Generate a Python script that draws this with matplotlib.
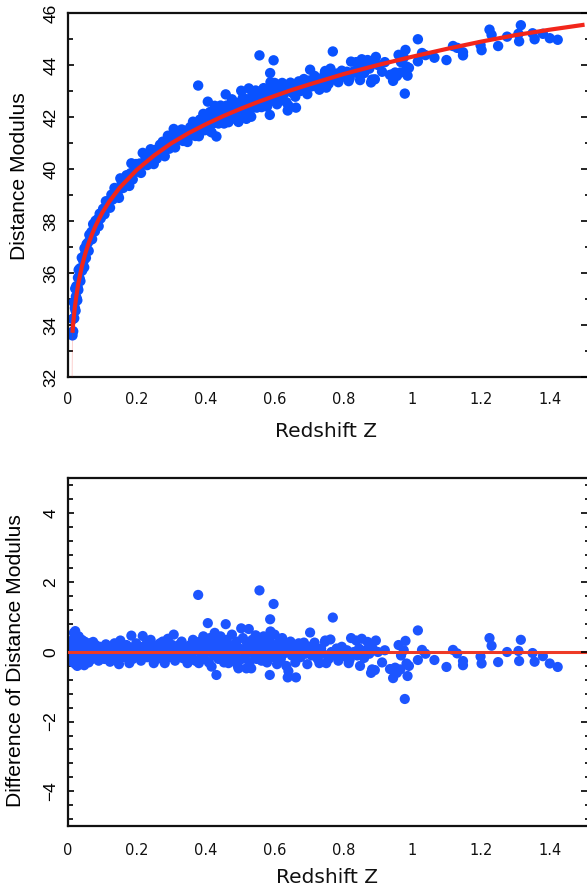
import matplotlib
matplotlib.use("Agg")
import matplotlib.pyplot as plt
from matplotlib.ticker import MultipleLocator, FixedLocator

# ---------------- data ----------------
# fitted model curve (top panel, red)
curve_z = [0.013, 0.015, 0.02, 0.025, 0.03, 0.04, 0.05, 0.06, 0.07, 0.08, 0.09,
           0.10, 0.12, 0.15, 0.20, 0.25, 0.30, 0.35, 0.40, 0.45, 0.50, 0.55,
           0.60, 0.65, 0.70, 0.80, 0.90, 1.00, 1.10, 1.20, 1.30, 1.40, 1.50]
curve_mu = [33.70, 34.06, 34.70, 35.18, 35.60, 36.24, 36.74, 37.15, 37.50, 37.81, 38.08,
            38.33, 38.75, 39.28, 39.97, 40.52, 40.99, 41.38, 41.72, 42.03, 42.31, 42.57,
            42.81, 43.04, 43.25, 43.65, 44.00, 44.32, 44.62, 44.90, 45.15, 45.36, 45.55]
# faint low-z tail of the curve
tail_z = [0.013, 0.012]
tail_mu = [33.70, 32.0]

# supernovae: redshift
redshift = [
    0.012, 0.013, 0.014, 0.015, 0.016, 0.017, 0.018, 0.019, 0.020, 0.021,
    0.022, 0.023, 0.024, 0.025, 0.026, 0.027, 0.028, 0.029, 0.030, 0.031,
    0.032, 0.034, 0.035, 0.036, 0.038, 0.040, 0.041, 0.043, 0.045, 0.047,
    0.048, 0.050, 0.052, 0.054, 0.056, 0.058, 0.060, 0.062, 0.065, 0.068,
    0.070, 0.073, 0.075, 0.078, 0.080, 0.083, 0.086, 0.089, 0.092, 0.095,
    0.098,
    0.102, 0.106, 0.110, 0.114, 0.118, 0.122, 0.126, 0.130, 0.135, 0.140,
    0.145, 0.148, 0.152, 0.156, 0.160, 0.165, 0.170, 0.175, 0.178, 0.182,
    0.184, 0.188, 0.193, 0.198, 0.203, 0.208, 0.212, 0.217, 0.220, 0.225,
    0.230, 0.235, 0.240, 0.244, 0.249, 0.253, 0.258, 0.262, 0.267, 0.271,
    0.275, 0.281, 0.285, 0.290, 0.294, 0.298, 0.303, 0.307, 0.311, 0.315,
    0.320, 0.325, 0.330, 0.334, 0.338, 0.342, 0.347, 0.350,
    0.355, 0.360, 0.363, 0.367, 0.370, 0.374, 0.378, 0.380, 0.383, 0.386,
    0.390, 0.393, 0.396, 0.400, 0.403, 0.406, 0.409, 0.412, 0.415, 0.417,
    0.420, 0.423, 0.426, 0.430, 0.431, 0.434, 0.437, 0.440, 0.443, 0.446,
    0.450, 0.453, 0.456, 0.458, 0.461, 0.464, 0.466, 0.470, 0.473, 0.476,
    0.480, 0.483, 0.486, 0.490, 0.493, 0.495, 0.498, 0.503, 0.505, 0.508,
    0.512, 0.515, 0.518, 0.520, 0.525, 0.527, 0.530, 0.532, 0.535, 0.538,
    0.542, 0.545, 0.548, 0.552, 0.556, 0.558, 0.562, 0.565, 0.568, 0.572,
    0.575, 0.578, 0.582, 0.585, 0.586, 0.587, 0.588, 0.590, 0.593, 0.597,
    0.600, 0.603, 0.607, 0.610, 0.614, 0.618, 0.622, 0.626, 0.630, 0.634,
    0.638, 0.640, 0.642, 0.646, 0.650, 0.655, 0.660, 0.662, 0.665, 0.670,
    0.675, 0.680, 0.685, 0.690, 0.695, 0.700, 0.703,
    0.708, 0.716, 0.720, 0.725, 0.730, 0.735, 0.740, 0.746, 0.747, 0.750,
    0.757, 0.762, 0.765, 0.769, 0.775, 0.780, 0.785, 0.790, 0.795, 0.805,
    0.810, 0.815, 0.818, 0.822, 0.830, 0.837, 0.840, 0.845, 0.848, 0.853,
    0.860, 0.865, 0.870, 0.875, 0.880, 0.883, 0.885, 0.891, 0.894, 0.900,
    0.912, 0.920, 0.935, 0.940, 0.944, 0.950, 0.955, 0.960, 0.965, 0.967,
    0.975, 0.978, 0.980, 0.983, 0.986, 0.990,
    1.016, 1.016, 1.028, 1.038, 1.064, 1.099, 1.118, 1.130, 1.147, 1.147,
    1.198, 1.201, 1.224, 1.230, 1.249, 1.275, 1.308, 1.310, 1.315, 1.349,
    1.355, 1.379, 1.399, 1.422,
]

# supernovae: observed distance modulus (top panel)
distance_modulus = [
    33.70, 33.60, 34.23, 33.76, 34.25, 34.88, 34.26, 34.83, 34.65, 35.40,
    34.55, 35.10, 35.49, 35.03, 35.47, 34.95, 35.44, 35.82, 35.35, 36.12,
    35.84, 35.77, 36.18, 35.69, 36.17, 36.59, 36.09, 36.55, 36.45, 36.22,
    36.95, 36.74, 36.58, 37.11, 36.89, 37.17, 36.85, 37.47, 37.28, 37.58,
    37.30, 37.88, 37.65, 37.60, 38.01, 37.84, 38.07, 37.80, 38.28, 38.10,
    38.33,
    38.47, 38.26, 38.76, 38.57, 38.76, 38.51, 39.01, 38.83, 39.27, 39.10,
    38.99, 38.89, 39.64, 39.46, 39.27, 39.54, 39.76, 39.58, 39.35, 39.84,
    40.22, 39.60, 39.92, 40.19, 39.90, 40.21, 39.85, 40.62, 40.19, 40.45,
    40.15, 40.46, 40.76, 40.40, 40.19, 40.73, 40.40, 40.68, 40.93, 40.62,
    41.05, 40.49, 40.97, 41.28, 40.78, 40.97, 41.21, 41.54, 40.83, 41.21,
    41.10, 41.41, 41.52, 41.08, 41.37, 41.47, 41.04, 41.33,
    41.61, 41.30, 41.82, 41.55, 41.27, 41.69, 43.21, 41.26, 41.90, 41.58,
    41.75, 42.12, 41.49, 41.92, 41.74, 42.59, 41.48, 42.19, 41.91, 41.41,
    42.09, 41.76, 42.43, 41.96, 41.25, 42.28, 41.75, 42.12, 42.44, 41.96,
    42.28, 41.75, 42.16, 42.87, 42.44, 41.96, 41.80, 42.34, 42.16, 42.68,
    41.95, 42.36, 42.18, 42.55, 41.87, 41.81, 42.40, 43.01, 42.14, 42.75,
    42.42, 42.29, 41.93, 42.66, 43.10, 42.15, 42.57, 42.01, 42.84, 42.46,
    42.73, 43.02, 42.36, 42.58, 44.37, 42.91, 42.38, 42.74, 43.11, 42.58,
    42.89, 42.40, 42.77, 43.09, 42.08, 43.69, 43.34, 42.91, 42.63, 44.18,
    43.31, 42.82, 42.49, 43.11, 42.97, 42.69, 43.31, 42.88, 43.15, 42.57,
    42.25, 42.44, 43.10, 43.32, 42.94, 43.21, 42.78, 42.36, 43.15, 43.37,
    43.00, 43.27, 43.46, 43.16, 42.88, 43.40, 43.82,
    43.18, 43.58, 43.38, 43.15, 43.05, 43.49, 43.36, 43.72, 43.77, 43.13,
    43.28, 43.86, 43.51, 44.52, 43.45, 43.67, 43.34, 43.56, 43.78, 43.54,
    43.74, 43.38, 43.49, 44.13, 43.76, 44.11, 43.69, 43.91, 43.42, 44.22,
    43.69, 43.93, 44.19, 43.86, 43.33, 43.44, 44.05, 43.45, 44.31, 44.00,
    43.74, 44.11, 43.62, 43.63, 43.39, 43.71, 43.58, 44.39, 43.71, 44.11,
    44.29, 42.90, 44.58, 43.94, 43.59, 43.89,
    44.99, 44.14, 44.46, 44.38, 44.28, 44.19, 44.73, 44.66, 44.49, 44.37,
    44.76, 44.57, 45.36, 45.16, 44.73, 45.09, 45.20, 44.91, 45.53, 45.22,
    44.99, 45.20, 45.03, 44.97,
]

# supernovae: difference of distance modulus (bottom panel)
mu_difference = [
    0.15, -0.10, 0.35, -0.30, 0.05, 0.55, -0.20, 0.25, -0.05, 0.60,
    -0.35, 0.10, 0.40, -0.15, 0.20, -0.40, 0.00, 0.30, -0.25, 0.45,
    0.10, -0.10, 0.25, -0.30, 0.05, 0.35, -0.20, 0.15, -0.05, -0.38,
    0.30, 0.00, -0.25, 0.20, -0.10, 0.10, -0.30, 0.25, -0.05, 0.15,
    -0.20, 0.29, 0.00, -0.15, 0.20, -0.05, 0.10, -0.25, 0.15, -0.10,
    0.05,
    0.10, -0.20, 0.22, -0.05, 0.05, -0.28, 0.15, -0.10, 0.25, 0.00,
    -0.20, -0.35, 0.33, 0.10, -0.15, 0.05, 0.20, -0.05, -0.32, 0.12,
    0.47, -0.20, 0.05, 0.25, -0.10, 0.15, -0.25, 0.46, 0.00, 0.20,
    -0.15, 0.10, 0.35, -0.05, -0.32, 0.18, -0.20, 0.05, 0.25, -0.10,
    0.30, -0.32, 0.12, 0.38, -0.15, 0.00, 0.20, 0.50, -0.25, 0.10,
    -0.05, 0.22, 0.30, -0.18, 0.08, 0.15, -0.32, -0.05,
    0.20, -0.15, 0.35, 0.05, -0.25, 0.15, 1.64, -0.32, 0.30, -0.05,
    0.10, 0.45, -0.20, 0.20, 0.00, 0.83, -0.30, 0.40, 0.10, -0.42,
    0.25, -0.10, 0.55, 0.05, -0.66, 0.35, -0.20, 0.15, 0.45, -0.05,
    0.25, -0.30, 0.10, 0.80, 0.35, -0.15, -0.32, 0.20, 0.00, 0.50,
    -0.25, 0.15, -0.05, 0.30, -0.40, -0.47, 0.10, 0.68, -0.20, 0.40,
    0.05, -0.10, -0.47, 0.25, 0.66, -0.30, 0.10, -0.47, 0.35, -0.05,
    0.20, 0.48, -0.20, 0.00, 1.77, 0.30, -0.25, 0.10, 0.45, -0.10,
    0.20, -0.30, 0.05, 0.35, -0.66, 0.94, 0.59, 0.15, -0.15, 1.38,
    0.50, 0.00, -0.35, 0.25, 0.10, -0.20, 0.40, -0.05, 0.20, -0.40,
    -0.73, -0.55, 0.10, 0.30, -0.10, 0.15, -0.30, -0.73, 0.05, 0.25,
    -0.15, 0.10, 0.27, -0.05, -0.35, 0.15, 0.56,
    -0.10, 0.27, 0.05, -0.20, -0.32, 0.10, -0.05, 0.29, 0.33, -0.32,
    -0.20, 0.36, 0.00, 0.99, -0.10, 0.10, -0.25, -0.05, 0.15, -0.13,
    0.05, -0.32, -0.22, 0.40, 0.00, 0.33, -0.10, 0.10, -0.40, 0.38,
    -0.17, 0.05, 0.29, -0.05, -0.60, -0.50, 0.10, -0.52, 0.33, 0.00,
    -0.30, 0.05, -0.49, -0.50, -0.75, -0.45, -0.60, 0.20, -0.50, -0.10,
    0.05, -1.35, 0.32, -0.33, -0.69, -0.40,
    0.62, -0.23, 0.06, -0.05, -0.23, -0.43, 0.06, -0.04, -0.26, -0.38,
    -0.13, -0.33, 0.40, 0.18, -0.29, 0.00, 0.03, -0.26, 0.35, -0.03,
    -0.28, -0.12, -0.33, -0.43,
]

x_ticks = [0, 0.2, 0.4, 0.6, 0.8, 1.0, 1.2, 1.4]
x_tick_labels = ["0", "0.2", "0.4", "0.6", "0.8", "1", "1.2", "1.4"]
top_y_ticks = [32, 34, 36, 38, 40, 42, 44, 46]
bottom_y_ticks = [-4, -2, 0, 2, 4]

# ---------------- styling ----------------
W, H = 587, 886
BLUE_TOP = "#0952FF"
BLUE_BOT = "#1D55FF"
RED_TOP = "#F2261B"
RED_BOT = "#EE3A26"
SPINE = "#111111"
YFONT = "Liberation Sans"
XFONT = "DejaVu Sans"

fig = plt.figure(figsize=(W / 100, H / 100), dpi=100)
ax1 = fig.add_axes([68 / W, 1 - 377 / H, 520 / W, 364 / H])
ax2 = fig.add_axes([68 / W, 1 - 826 / H, 520 / W, 348 / H])

# top panel
ax1.scatter(redshift, distance_modulus, s=56, color=BLUE_TOP, edgecolors="none",
            zorder=2)
ax1.plot(tail_z, tail_mu, color=RED_TOP, lw=0.6, alpha=0.25, zorder=3)
ax1.plot(curve_z, curve_mu, color=RED_TOP, lw=3.0, zorder=3,
         solid_capstyle="butt")
ax1.set_xlim(0, 1.51)
ax1.set_ylim(32, 46)

# bottom panel
ax2.scatter(redshift, mu_difference, s=54, color=BLUE_BOT, edgecolors="none",
            zorder=2)
ax2.axhline(0, color=RED_BOT, lw=2.2, zorder=3)
ax2.set_xlim(0, 1.51)
ax2.set_ylim(-5, 5)

for ax, yticks, minor_step, right_minor in (
        (ax1, top_y_ticks, 1, 1), (ax2, bottom_y_ticks, 0.4, 0.4)):
    for side in ("left", "top", "bottom"):
        ax.spines[side].set_linewidth(1.6)
        ax.spines[side].set_color(SPINE)
    ax.spines["right"].set_visible(False)

    ax.set_xticks(x_ticks, x_tick_labels, fontfamily=XFONT, fontsize=10.5,
                  color="#111111")
    ax.tick_params(axis="x", length=0, pad=10.5)

    ax.set_yticks(yticks, [str(t).replace("-", "\u2212") for t in yticks],
                  rotation=90, va="center", ha="right",
                  fontfamily=YFONT, fontsize=12.5)
    ax.yaxis.set_minor_locator(MultipleLocator(minor_step))
    ax.tick_params(axis="y", which="major", direction="in", length=4.5,
                   width=1.2, pad=7, left=True, right=False)
    ax.tick_params(axis="y", which="minor", direction="in", length=3.5,
                   width=1.2, left=True, right=False)

    # right-hand ticks (no labels)
    axr = ax.twinx()
    axr.set_ylim(ax.get_ylim())
    for side in axr.spines:
        axr.spines[side].set_visible(False)
    axr.yaxis.set_major_locator(FixedLocator(yticks))
    axr.yaxis.set_minor_locator(MultipleLocator(right_minor))
    axr.tick_params(axis="y", which="major", direction="in", length=5,
                    width=1.2, labelright=False)
    axr.tick_params(axis="y", which="minor", direction="in", length=2.2,
                    width=1.2)

ax2.tick_params(axis="x", pad=12)

# axis titles
fig.text(326 / W, 1 - 437 / H, "Redshift Z", ha="center", va="baseline",
         fontfamily=XFONT, fontsize=14.5, color="#111111")
fig.text(327 / W, 1 - 883 / H, "Redshift Z", ha="center", va="baseline",
         fontfamily=XFONT, fontsize=14.5, color="#111111")
fig.text(20 / W, 1 - 176 / H, "Distance Modulus", rotation=90, ha="center",
         va="center", fontfamily=YFONT, fontsize=15.2)
fig.text(16 / W, 1 - 661 / H, "Difference of Distance Modulus", rotation=90,
         ha="center", va="center", fontfamily=YFONT, fontsize=15.2)

fig.savefig("out.png", dpi=100)
